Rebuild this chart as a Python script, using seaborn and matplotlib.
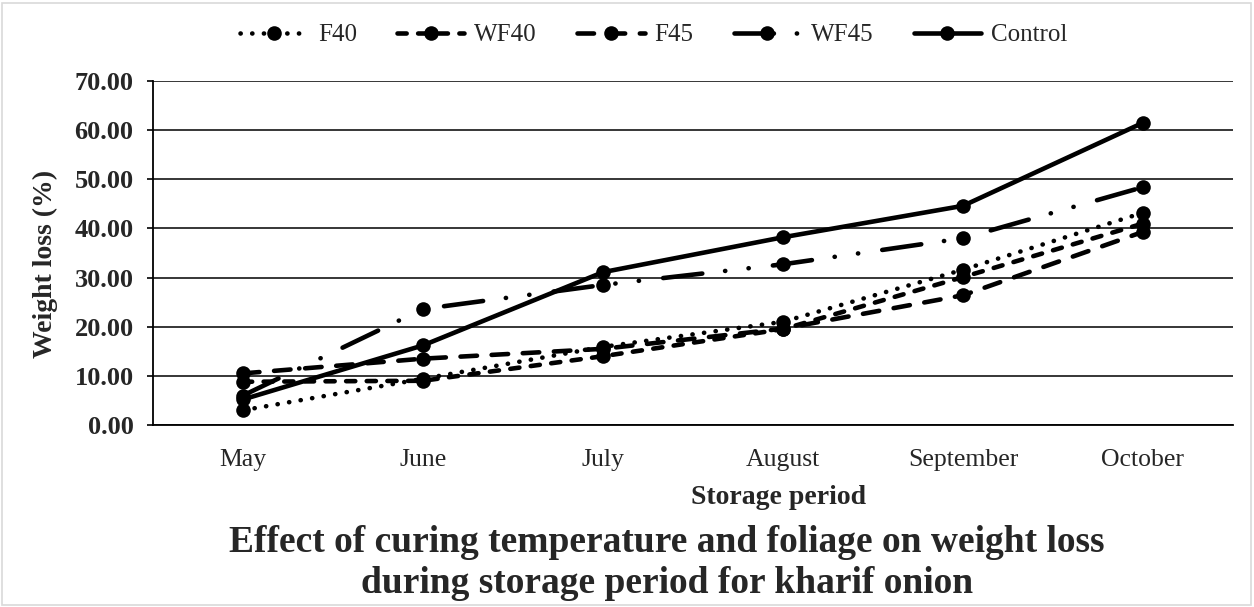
import matplotlib
matplotlib.use("Agg")
import matplotlib.pyplot as plt
from matplotlib.patches import Rectangle
import pandas as pd
import seaborn as sns

# Storage months and cumulative weight loss (%) per treatment
months = ["May", "June", "July", "August", "September", "October"]
f40 = [3.0, 9.4, 15.9, 21.0, 31.6, 43.2]
wf40 = [8.8, 9.0, 14.0, 19.5, 30.1, 41.0]
f45 = [10.5, 13.5, 15.5, 19.6, 26.4, 39.3]
wf45 = [6.0, 23.6, 28.5, 32.7, 38.0, 48.4]
control = [5.2, 16.2, 31.1, 38.2, 44.6, 61.5]
treatments = ["F40", "WF40", "F45", "WF45", "Control"]
yticks = [0, 10, 20, 30, 40, 50, 60, 70]

series = dict(zip(treatments, [f40, wf40, f45, wf45, control]))
df = pd.DataFrame(
    [(m, t, v) for t in treatments for m, v in zip(months, series[t])],
    columns=["month", "treatment", "loss"],
)

sns.set_theme(style="white")
plt.rcParams["font.family"] = ["Liberation Serif", "DejaVu Serif"]
plt.rcParams["lines.dash_capstyle"] = "round"
plt.rcParams["lines.solid_capstyle"] = "round"

fig = plt.figure(figsize=(12.54, 6.07), dpi=100)
W, H = 1254, 607
ax = fig.add_axes([153 / W, 1 - 425 / H, (1233 - 153) / W, (425 - 81) / H])

dash_styles = {
    "F40": (0.05, 2.5),
    "WF40": (2.0, 2.5),
    "F45": (3.6, 3.2),
    "WF45": (8.6, 5.0, 0.05, 5.1, 0.05, 5.3),
    "Control": "",
}
sns.lineplot(
    data=df, x="month", y="loss", hue="treatment", style="treatment",
    hue_order=treatments, style_order=treatments,
    palette={t: "black" for t in treatments},
    dashes=dash_styles, markers={t: "o" for t in treatments},
    sort=False, linewidth=3.3, markersize=10.5, markeredgewidth=0,
    ax=ax, zorder=3,
)

ax.set_xlim(-0.5, len(months) - 0.5)
ax.set_ylim(0, 70)
ax.set_yticks(yticks)
ax.set_yticklabels([f"{v:.2f}" for v in yticks], fontweight="bold", fontsize=19)
ax.tick_params(axis="y", direction="out", length=4, width=1.2, color="black", pad=10, left=True)
ax.tick_params(axis="x", length=0, pad=17, labelsize=18.5)
ax.yaxis.grid(True, color="black", linewidth=1.1)
ax.set_axisbelow(True)
for side in ["top", "right"]:
    ax.spines[side].set_visible(False)
for side in ["left", "bottom"]:
    ax.spines[side].set_visible(True)
    ax.spines[side].set_color("black")
    ax.spines[side].set_linewidth(1.3)

ax.set_ylabel("Weight loss (%)", fontsize=20, fontweight="bold")
ax.yaxis.set_label_coords((45 - 153) / (1233 - 153), (425 - 264) / (425 - 81))
ax.set_xlabel("Storage period", fontsize=20, fontweight="bold")
ax.xaxis.set_label_coords((779 - 153) / (1233 - 153), -(497 - 425) / (425 - 81))
ax.xaxis.label.set_va("center")
ax.yaxis.label.set_va("center")

handles, labels = ax.get_legend_handles_labels()
ax.get_legend().remove()
fig.legend(
    handles, labels, loc="center", bbox_to_anchor=(654 / W, 1 - 35 / H),
    ncol=5, frameon=False, fontsize=18, handlelength=2.7,
    handletextpad=0.4, columnspacing=1.6,
)

fig.text(
    667 / W, 1 - 563 / H,
    "Effect of curing temperature and foliage on weight loss\nduring storage period for kharif onion",
    ha="center", va="center", fontsize=27, fontweight="bold", linespacing=1.22,
)

fig.patches.append(Rectangle((2 / W, 2 / H), 1 - 5 / W, 1 - 5 / H, transform=fig.transFigure,
                             fill=False, edgecolor="#d9d9d9", linewidth=1.2))

fig.savefig("out.png", dpi=100)
